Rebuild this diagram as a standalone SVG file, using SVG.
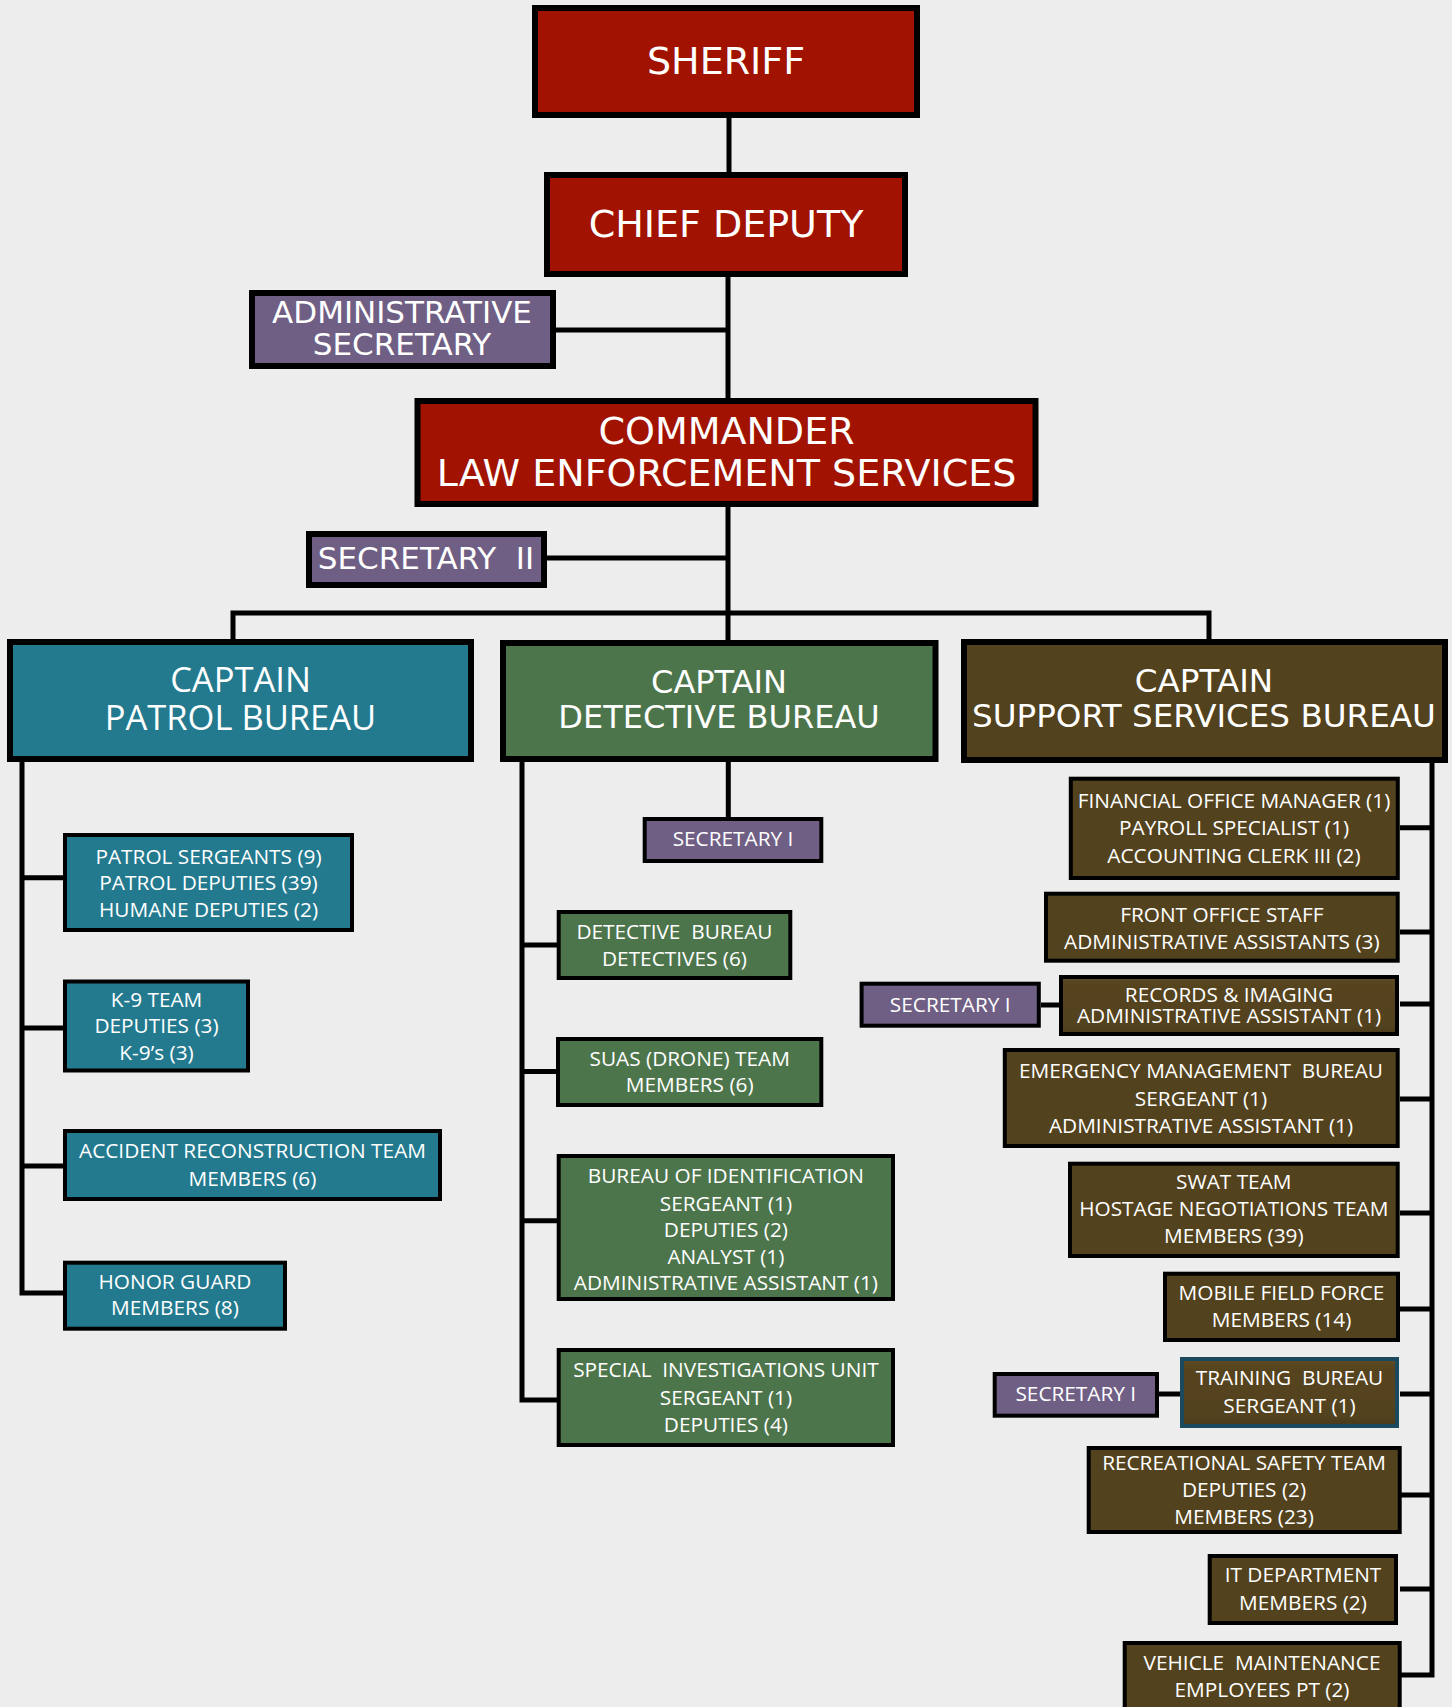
<svg xmlns="http://www.w3.org/2000/svg" width="1452" height="1707" viewBox="0 0 1452 1707">
<defs>
<style>
.big{stroke:#000;stroke-width:6}
.sm{stroke:#000;stroke-width:4}
.red{fill:#A11300}
.pur{fill:#705F85}
.teal{fill:#237A8F}
.grn{fill:#4D754C}
.brn{fill:#53421E}
.bev{fill:url(#bevel)}
.t{fill:#fff;text-anchor:middle}
.h{font-family:"DejaVu Sans",Verdana,sans-serif}
.s{font-family:"Open Sans","Noto Sans",sans-serif;font-size:20.8px}
.ln{stroke:#000;stroke-width:5;fill:none}
</style>
<linearGradient id="bevel" x1="0" y1="0" x2="0" y2="1">
<stop offset="0" stop-color="#5F4B24"/>
<stop offset="0.15" stop-color="#56441F"/>
<stop offset="0.85" stop-color="#53421E"/>
<stop offset="1" stop-color="#4A3A1A"/>
</linearGradient>
</defs>
<rect width="1452" height="1707" fill="#EDEDED"/>

<g id="connectors">
<path class="ln" d="M729 118 V172"/>
<path class="ln" d="M728 277 V398"/>
<path class="ln" d="M556 330 H728"/>
<path class="ln" d="M728 507 V640"/>
<path class="ln" d="M547 558 H728"/>
<path class="ln" d="M233 640 V613 H1209 V640"/>
<path class="ln" d="M22 762 V1293 H63"/>
<path class="ln" d="M22 877.7 H63 M22 1028 H63 M22 1166 H63"/>
<path class="ln" d="M728.3 762 V817"/>
<path class="ln" d="M522 762 V1400 H557"/>
<path class="ln" d="M522 945 H557 M522 1071.5 H557 M522 1220.7 H557"/>
<path class="ln" d="M1432 763 V1675 H1400"/>
<path class="ln" d="M1400 827.7 H1432 M1400 932 H1432 M1400 1004 H1432 M1400 1099 H1432 M1400 1213 H1432 M1400 1309 H1432 M1400 1394 H1432 M1400 1495 H1432 M1400 1589 H1432"/>
<path class="ln" d="M1041 1005 H1059"/>
<path class="ln" d="M1159 1394 H1180"/>
</g>

<g id="sheriff">
<rect class="big red" x="535" y="8" width="382" height="107"/>
<text class="t h" x="726" y="74" font-size="38">SHERIFF</text>
</g>
<g id="chief-deputy">
<rect class="big red" x="547" y="175" width="358" height="99"/>
<text class="t h" x="726" y="237" font-size="38">CHIEF DEPUTY</text>
</g>
<g id="admin-secretary">
<rect class="big pur" x="252" y="293" width="301" height="73"/>
<text class="t h" x="402" y="323" font-size="31">ADMINISTRATIVE</text>
<text class="t h" x="402" y="355" font-size="31">SECRETARY</text>
</g>
<g id="commander">
<rect class="big red" x="417.5" y="401" width="618" height="103"/>
<text class="t h" x="726.5" y="444" font-size="38">COMMANDER</text>
<text class="t h" x="726.5" y="486" font-size="38">LAW ENFORCEMENT SERVICES</text>
</g>
<g id="secretary-ii">
<rect class="big pur" x="309" y="534" width="235" height="51"/>
<text class="t h" x="426" y="569" font-size="31" xml:space="preserve">SECRETARY  II</text>
</g>

<g id="captain-patrol">
<rect class="big teal" x="10" y="642" width="461" height="117"/>
<text class="t s" x="240.5" y="692" style="font-size:34.5px">CAPTAIN</text>
<text class="t s" x="240.5" y="730" style="font-size:34.5px">PATROL BUREAU</text>
</g>
<g id="captain-detective">
<rect class="big grn" x="503" y="643" width="432.5" height="116"/>
<text class="t h" x="719" y="693" font-size="32">CAPTAIN</text>
<text class="t h" x="719" y="728" font-size="32">DETECTIVE BUREAU</text>
</g>
<g id="captain-support">
<rect class="big brn" x="964" y="642" width="481" height="118"/>
<text class="t h" x="1204" y="692" font-size="32.6">CAPTAIN</text>
<text class="t h" x="1204" y="727" font-size="32.6">SUPPORT SERVICES BUREAU</text>
</g>

<g id="patrol-sergeants">
<rect class="sm teal" x="65" y="835" width="287" height="95"/>
<text class="t s" x="208.5" y="863.5">PATROL SERGEANTS (9)</text>
<text class="t s" x="208.5" y="889.7">PATROL DEPUTIES (39)</text>
<text class="t s" x="208.5" y="917.2">HUMANE DEPUTIES (2)</text>
</g>
<g id="k9-team">
<rect class="sm teal" x="65" y="981.5" width="183" height="89"/>
<text class="t s" x="156.5" y="1006.7">K-9 TEAM</text>
<text class="t s" x="156.5" y="1032.8">DEPUTIES (3)</text>
<text class="t s" x="156.5" y="1060.4">K-9’s (3)</text>
</g>
<g id="accident-reconstruction">
<rect class="sm teal" x="65" y="1131" width="375" height="68"/>
<text class="t s" x="252.5" y="1158">ACCIDENT RECONSTRUCTION TEAM</text>
<text class="t s" x="252.5" y="1186.4">MEMBERS (6)</text>
</g>
<g id="honor-guard">
<rect class="sm teal" x="65" y="1262.7" width="220" height="66"/>
<text class="t s" x="175" y="1288.8">HONOR GUARD</text>
<text class="t s" x="175" y="1315.4">MEMBERS (8)</text>
</g>

<g id="detective-secretary">
<rect class="sm pur" x="644.7" y="819" width="176.6" height="42"/>
<text class="t s" x="733" y="846">SECRETARY I</text>
</g>
<g id="detective-bureau">
<rect class="sm grn" x="558.7" y="912" width="231.6" height="66"/>
<text class="t s" x="674.5" y="939.4" xml:space="preserve">DETECTIVE  BUREAU</text>
<text class="t s" x="674.5" y="966.4">DETECTIVES (6)</text>
</g>
<g id="suas-team">
<rect class="sm grn" x="558" y="1039" width="263.3" height="66"/>
<text class="t s" x="689.7" y="1066.4">SUAS (DRONE) TEAM</text>
<text class="t s" x="689.7" y="1092.4">MEMBERS (6)</text>
</g>
<g id="bureau-identification">
<rect class="sm grn" x="558.7" y="1156" width="334.3" height="143"/>
<text class="t s" x="725.9" y="1183.4">BUREAU OF IDENTIFICATION</text>
<text class="t s" x="725.9" y="1211">SERGEANT (1)</text>
<text class="t s" x="725.9" y="1237.4">DEPUTIES (2)</text>
<text class="t s" x="725.9" y="1264">ANALYST (1)</text>
<text class="t s" x="725.9" y="1290.4">ADMINISTRATIVE ASSISTANT (1)</text>
</g>
<g id="special-investigations">
<rect class="sm grn" x="558.7" y="1350" width="334.3" height="95"/>
<text class="t s" x="725.9" y="1377.4" xml:space="preserve">SPECIAL  INVESTIGATIONS UNIT</text>
<text class="t s" x="725.9" y="1405">SERGEANT (1)</text>
<text class="t s" x="725.9" y="1432.4">DEPUTIES (4)</text>
</g>

<g id="financial-office">
<rect class="sm brn" x="1070.8" y="778.7" width="327" height="99.3"/>
<text class="t s" x="1234" y="808">FINANCIAL OFFICE MANAGER (1)</text>
<text class="t s" x="1234" y="835">PAYROLL SPECIALIST (1)</text>
<text class="t s" x="1234" y="863.4">ACCOUNTING CLERK III (2)</text>
</g>
<g id="front-office">
<rect class="sm brn" x="1046" y="893.7" width="351.7" height="67"/>
<text class="t s" x="1221.8" y="922.4">FRONT OFFICE STAFF</text>
<text class="t s" x="1221.8" y="949">ADMINISTRATIVE ASSISTANTS (3)</text>
</g>
<g id="records-secretary">
<rect class="sm pur" x="861.6" y="983.7" width="177.2" height="42"/>
<text class="t s" x="950.2" y="1012.4">SECRETARY I</text>
</g>
<g id="records-imaging">
<rect class="sm bev" x="1061" y="977" width="336" height="57"/>
<text class="t s" x="1229" y="1002">RECORDS &amp; IMAGING</text>
<text class="t s" x="1229" y="1023">ADMINISTRATIVE ASSISTANT (1)</text>
</g>
<g id="emergency-management">
<rect class="sm brn" x="1004.8" y="1050" width="392.9" height="96"/>
<text class="t s" x="1201" y="1078" xml:space="preserve">EMERGENCY MANAGEMENT  BUREAU</text>
<text class="t s" x="1201" y="1105.5">SERGEANT (1)</text>
<text class="t s" x="1201" y="1133">ADMINISTRATIVE ASSISTANT (1)</text>
</g>
<g id="swat-team">
<rect class="sm brn" x="1070" y="1163.7" width="327.7" height="92.3"/>
<text class="t s" x="1233.8" y="1189">SWAT TEAM</text>
<text class="t s" x="1233.8" y="1215.5">HOSTAGE NEGOTIATIONS TEAM</text>
<text class="t s" x="1233.8" y="1243.4">MEMBERS (39)</text>
</g>
<g id="mobile-field-force">
<rect class="sm brn" x="1165" y="1273.7" width="233" height="66.3"/>
<text class="t s" x="1281.5" y="1300">MOBILE FIELD FORCE</text>
<text class="t s" x="1281.5" y="1327.4">MEMBERS (14)</text>
</g>
<g id="training-secretary">
<rect class="sm pur" x="994.7" y="1374" width="162.3" height="41.7"/>
<text class="t s" x="1075.8" y="1401.4">SECRETARY I</text>
</g>
<g id="training-bureau">
<rect class="bev" x="1182" y="1359" width="215" height="67" stroke="#1B4A5E" stroke-width="4"/>
<text class="t s" x="1289.5" y="1385" xml:space="preserve">TRAINING  BUREAU</text>
<text class="t s" x="1289.5" y="1413">SERGEANT (1)</text>
</g>
<g id="recreational-safety">
<rect class="sm brn" x="1088.7" y="1448" width="311" height="84"/>
<text class="t s" x="1244" y="1470.4">RECREATIONAL SAFETY TEAM</text>
<text class="t s" x="1244" y="1497.4">DEPUTIES (2)</text>
<text class="t s" x="1244" y="1524">MEMBERS (23)</text>
</g>
<g id="it-department">
<rect class="sm brn" x="1209.7" y="1556" width="186.3" height="67"/>
<text class="t s" x="1303" y="1582.4">IT DEPARTMENT</text>
<text class="t s" x="1303" y="1610">MEMBERS (2)</text>
</g>
<g id="vehicle-maintenance">
<rect class="sm brn" x="1124.7" y="1643" width="275" height="80"/>
<text class="t s" x="1262" y="1670" xml:space="preserve">VEHICLE  MAINTENANCE</text>
<text class="t s" x="1262" y="1696.7">EMPLOYEES PT (2)</text>
</g>
</svg>
